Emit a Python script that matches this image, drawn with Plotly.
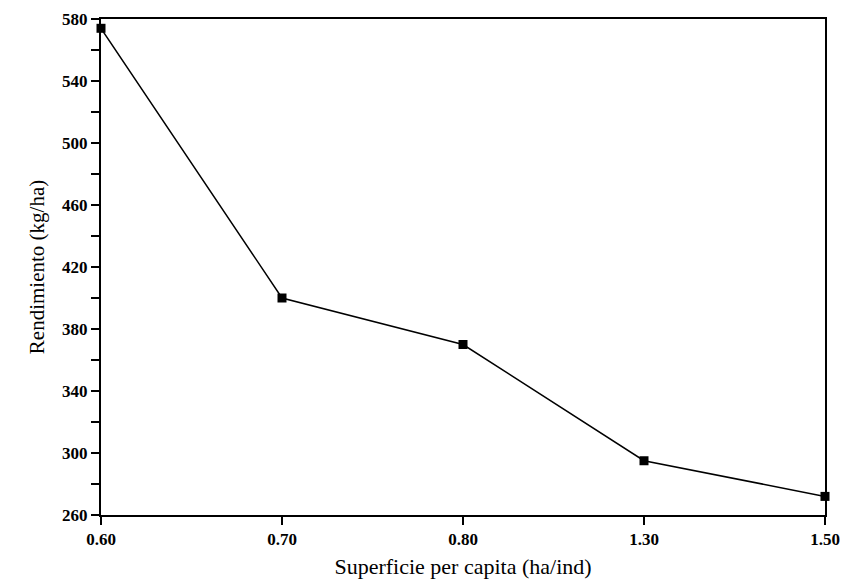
import plotly.graph_objects as go

categories = ["0.60", "0.70", "0.80", "1.30", "1.50"]
rendimiento = [574, 400, 370, 295, 272]
y_ticks = [260, 300, 340, 380, 420, 460, 500, 540, 580]

x_pos = list(range(len(categories)))

fig = go.Figure()
fig.add_trace(go.Scatter(
    x=x_pos, y=rendimiento, mode="lines+markers",
    line=dict(color="black", width=1.5),
    marker=dict(symbol="square", size=9, color="black"),
    cliponaxis=False, showlegend=False,
))

font_family = "Liberation Serif, Times New Roman, serif"
fig.update_layout(
    template="none",
    width=845, height=586,
    margin=dict(l=101, r=20, t=19, b=71, autoexpand=False),
    paper_bgcolor="white", plot_bgcolor="white",
    font=dict(family=font_family, color="black"),
    xaxis=dict(
        range=[0, 4], tickvals=x_pos, ticktext=categories, automargin=False,
        ticks="outside", ticklen=8, tickwidth=1.5, tickcolor="black",
        showline=True, linecolor="black", linewidth=2, mirror=True,
        showgrid=False, zeroline=False, ticklabeloverflow="allow",
        tickfont=dict(size=17, family=font_family, weight="bold"),
        title=dict(text="Superficie per capita (ha/ind)", font=dict(size=22, family=font_family), standoff=10),
    ),
    yaxis=dict(
        range=[260, 580], tickvals=y_ticks, automargin=False,
        ticks="outside", ticklen=8, tickwidth=1.5, tickcolor="black",
        minor=dict(dtick=20, tick0=260, ticks="outside", ticklen=8, tickwidth=1.5, tickcolor="black", showgrid=False),
        showline=True, linecolor="black", linewidth=2, mirror=True,
        showgrid=False, zeroline=False, ticklabeloverflow="allow",
        tickfont=dict(size=17, family=font_family, weight="bold"),
        title=dict(text="Rendimiento (kg/ha)", font=dict(size=21, family=font_family), standoff=12),
    ),
)

fig.write_html(
    "out.html",
    config={"displayModeBar": False},
    post_script="document.body.style.margin='0';document.body.style.overflow='hidden';",
)
